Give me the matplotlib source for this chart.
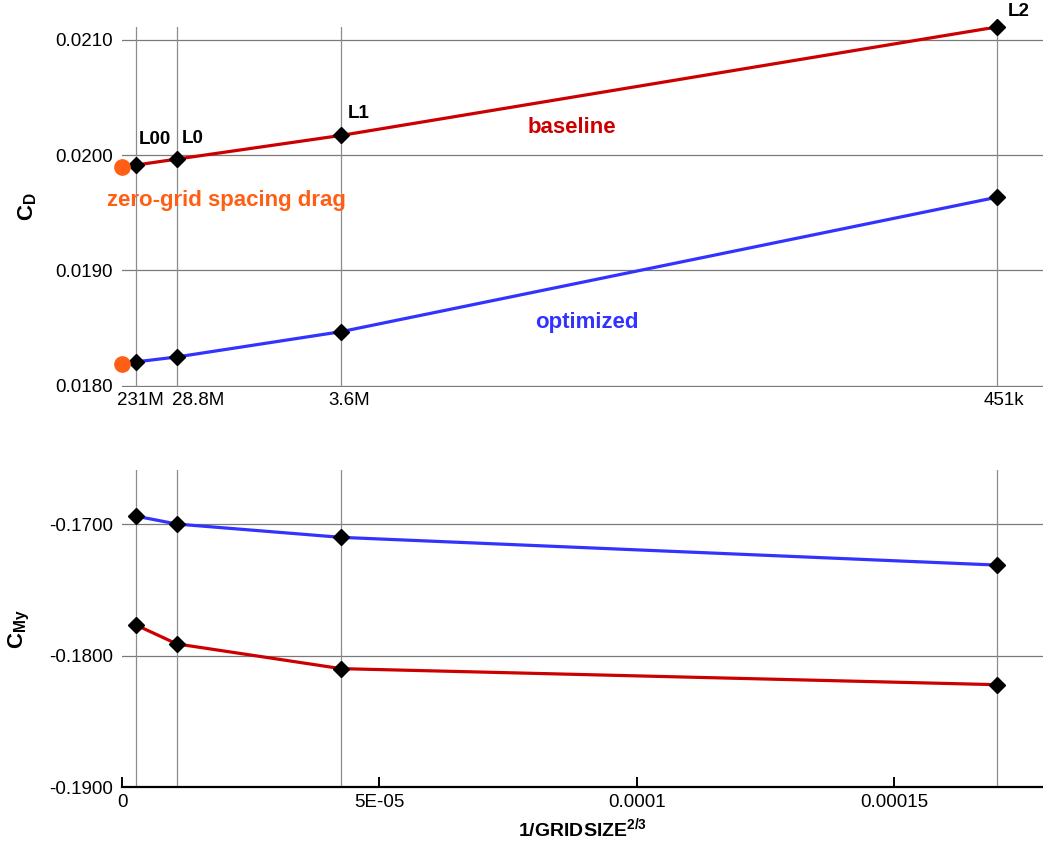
import matplotlib
matplotlib.use("Agg")
import matplotlib.pyplot as plt

plt.rcParams['font.family'] = ['Liberation Sans', 'DejaVu Sans']
plt.rcParams['mathtext.fontset'] = 'custom'
plt.rcParams['mathtext.rm'] = 'Liberation Sans'
plt.rcParams['mathtext.bf'] = 'Liberation Sans:bold'

# 1/N^(2/3) for grids L00, L0, L1, L2
grid_x = [2.64e-6, 1.064e-5, 4.255e-5, 1.700e-4]
grid_names = ["L00", "L0", "L1", "L2"]
grid_sizes = ["231M", "28.8M", "3.6M", "451k"]

cd_baseline = [0.019913, 0.019965, 0.02017, 0.02111]
cd_optimized = [0.018208, 0.018251, 0.01847, 0.019635]
cd_zero = [0.019893, 0.018188]  # zero-grid spacing extrapolation (baseline, optimized)

cm_baseline = [-0.17766, -0.17911, -0.18099, -0.18221]
cm_optimized = [-0.16939, -0.1700, -0.17101, -0.17312]

RED = "#cc0000"
BLUE = "#3333ff"
ORANGE = "#ff5f14"
GRID = "#8c8c8c"

fig = plt.figure(figsize=(10.43, 8.41), dpi=100)
ax1 = fig.add_axes([0.117, 0.540, 0.883, 0.428])
ax2 = fig.add_axes([0.117, 0.064, 0.883, 0.377])

for ax in (ax1, ax2):
    ax.set_xlim(0, 1.789e-4)
    for s in ("top", "right", "left", "bottom"):
        ax.spines[s].set_visible(False)
    for gx in grid_x:
        ax.axvline(gx, color=GRID, lw=0.9, zorder=1)
    ax.yaxis.grid(True, color="#7a7a7a", lw=0.9)
    ax.set_axisbelow(True)
    ax.tick_params(axis="y", length=0, pad=6.5, labelsize=13.5)

# --- top: drag
ax1.set_ylim(0.017992, 0.02111)
ax1.set_yticks([0.0180, 0.0190, 0.0200, 0.0210])
ax1.set_yticklabels(["%.4f" % v for v in [0.0180, 0.0190, 0.0200, 0.0210]])
ax1.set_xticks([])
ax1.plot(grid_x, cd_baseline, color=RED, lw=2.3, zorder=3)
ax1.plot(grid_x, cd_optimized, color=BLUE, lw=2.3, zorder=3)
ax1.plot(grid_x, cd_baseline, ls="none", marker="D", ms=8.5, color="black", zorder=4, clip_on=False)
ax1.plot(grid_x, cd_optimized, ls="none", marker="D", ms=8.5, color="black", zorder=4, clip_on=False)
ax1.plot([0, 0], cd_zero, ls="none", marker="o", ms=11, color=ORANGE, zorder=5, clip_on=False)

name_off = [(3, 17), (5, 12), (7, 13), (11, 7)]
for gx, gy, nm, off in zip(grid_x, cd_baseline, grid_names, name_off):
    ax1.annotate(nm, (gx, gy), xytext=off, textcoords="offset pixels",
                 ha="left", va="bottom", fontsize=13.5, fontweight="bold")

size_off = [5, 21, 8, 7]
for gx, lab, dx in zip(grid_x, grid_sizes, size_off):
    ax1.annotate(lab, (gx, 0.0180), xytext=(dx, -6), textcoords="offset pixels",
                 ha="center", va="top", fontsize=13.5)

ax1.text(8.74e-5, 0.020241, "baseline", color=RED, fontsize=16, fontweight="bold",
         ha="center", va="center")
ax1.text(9.03e-5, 0.01855, "optimized", color=BLUE, fontsize=16, fontweight="bold",
         ha="center", va="center")
ax1.text(2.02e-5, 0.01961, "zero-grid spacing drag", color=ORANGE, fontsize=16,
         fontweight="bold", ha="center", va="center")
ax1.set_ylabel(r"$\mathbf{C}_{\mathbf{D}}$", fontsize=16, labelpad=12)

# --- bottom: pitching moment
ax2.set_ylim(-0.1900, -0.1659)
ax2.set_yticks([-0.19, -0.18, -0.17])
ax2.set_yticklabels(["%.4f" % v for v in [-0.19, -0.18, -0.17]])
ax2.spines["bottom"].set_visible(True)
ax2.spines["bottom"].set_linewidth(1.6)
ax2.set_xticks([0, 5e-5, 1e-4, 1.5e-4])
ax2.set_xticklabels(["0", "5E-05", "0.0001", "0.00015"])
ax2.tick_params(axis="x", direction="in", length=7, width=1.4, pad=5, labelsize=13.5)
ax2.plot(grid_x, cm_baseline, color=RED, lw=2.3, zorder=3)
ax2.plot(grid_x, cm_optimized, color=BLUE, lw=2.3, zorder=3)
ax2.plot(grid_x, cm_baseline, ls="none", marker="D", ms=8.5, color="black", zorder=4, clip_on=False)
ax2.plot(grid_x, cm_optimized, ls="none", marker="D", ms=8.5, color="black", zorder=4, clip_on=False)
ax2.set_ylabel(r"$\mathbf{C}_{\mathbf{My}}$", fontsize=16, labelpad=12)
ax2.set_xlabel(r"1/GRIDSIZE$^{\mathbf{2/3}}$", fontsize=14, fontweight="bold", labelpad=4)

fig.savefig("out.png", dpi=100)
